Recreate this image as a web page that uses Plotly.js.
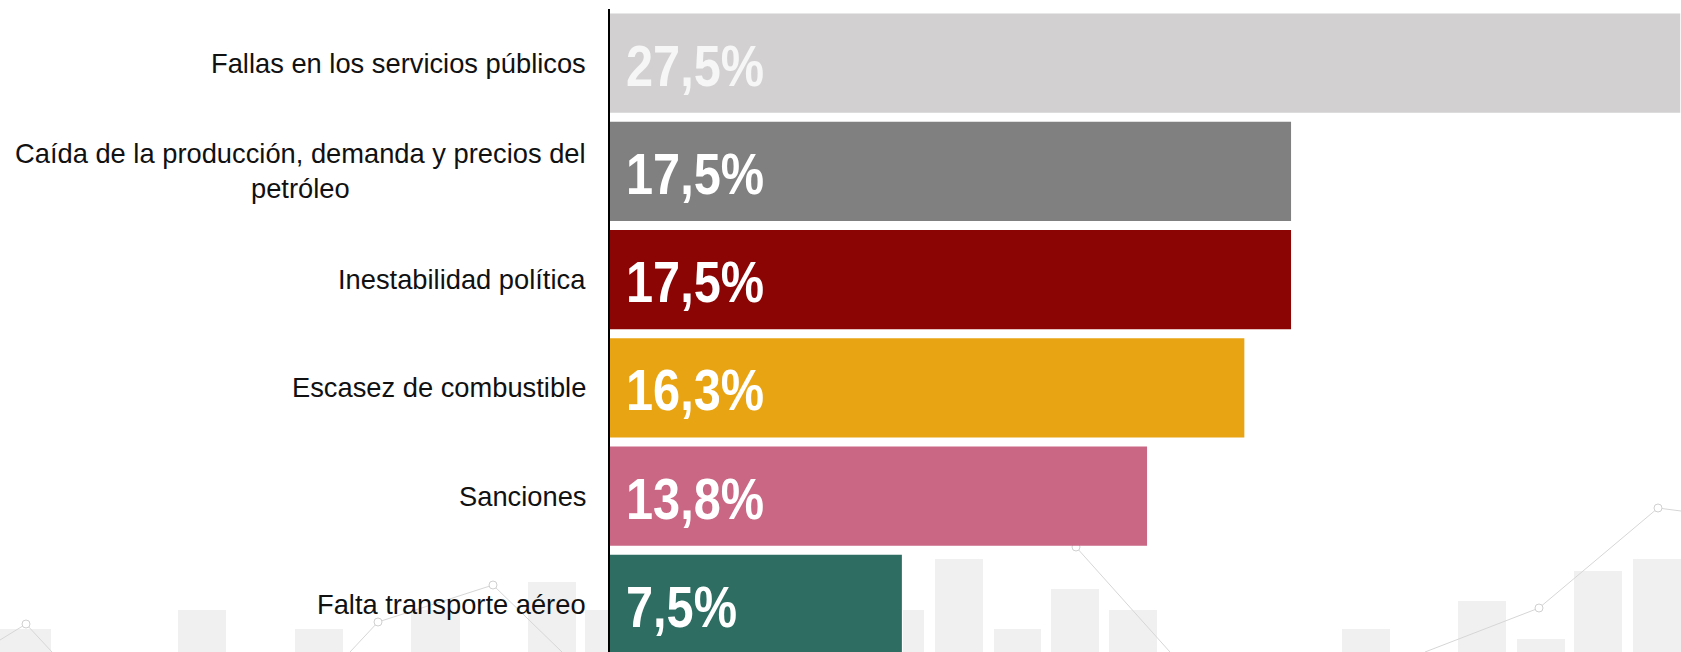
<!DOCTYPE html>
<html>
<head>
<meta charset="utf-8">
<script src="https://cdn.plot.ly/plotly-3.0.1.min.js"></script>
<style>
  html, body { margin: 0; padding: 0; background: #ffffff; }
  #chart { width: 1681px; height: 652px; }
</style>
</head>
<body>
<div id="chart"></div>
<script>
const categories = [
  "Fallas en los servicios públicos",
  "Caída de la producción, demanda y precios del<br>petróleo",
  "Inestabilidad política",
  "Escasez de combustible",
  "Sanciones",
  "Falta transporte aéreo"
];
const values = [27.5, 17.5, 17.5, 16.3, 13.8, 7.5];
const barColors = ["#D2D0D0", "#808080", "#8B0505", "#E9A413", "#C96784", "#2E6E62"];
const valueTextColors = ["#F6F6F6", "#FFFFFF", "#FFFFFF", "#FFFFFF", "#FFFFFF", "#FFFFFF"];

// faint decorative watermark (pixel boxes: x0, x1, top) – background art, not data
const watermarkBars = [
  [0, 51, 629], [178, 226, 610], [295, 343, 629], [411, 460, 610], [528, 576, 582], [585, 633, 610],
  [903, 924, 610], [935, 983, 559], [994, 1041, 629], [1051, 1099, 589], [1109, 1157, 610],
  [1342, 1390, 629], [1458, 1506, 601], [1517, 1565, 639], [1574, 1622, 571], [1633, 1681, 559]
];
const watermarkLines = [
  [[0, 640], [26, 624], [52, 652]],
  [[350, 652], [378, 622], [493, 585], [562, 652]],
  [[1040, 480], [1076, 547], [1170, 652]],
  [[1425, 652], [1539, 608], [1658, 508], [1681, 511]]
];

const ids = categories.map((c, i) => "c" + i);

const W = 1681, H = 652, ML = 610, MT = 9;
const PW = W - ML, PH = H - MT;
const px = x => (x - ML) / PW;
const py = y => (H - y) / PH;

const shapes = [];
watermarkBars.forEach(b => {
  shapes.push({
    type: "rect", xref: "paper", yref: "paper", layer: "below",
    x0: px(b[0]), x1: px(b[1]), y0: py(H), y1: py(b[2]),
    fillcolor: "#F0F0F0", line: { width: 0 }
  });
});
watermarkLines.forEach(l => {
  const path = l.map((p, i) => (i ? "L" : "M") + px(p[0]) + "," + py(p[1])).join(" ");
  shapes.push({
    type: "path", xref: "paper", yref: "paper", layer: "below",
    path: path, line: { color: "#D6D6D6", width: 1 }
  });
  l.slice(1, -1).forEach(p => {
    shapes.push({
      type: "circle", xref: "paper", yref: "paper", layer: "below",
      xsizemode: "pixel", ysizemode: "pixel",
      xanchor: px(p[0]), yanchor: py(p[1]),
      x0: -4, x1: 4, y0: -4, y1: 4,
      fillcolor: "#FFFFFF", line: { color: "#D0D0D0", width: 1 }
    });
  });
});

const trace = {
  type: "bar",
  orientation: "h",
  x: values,
  y: ids,
  marker: { color: barColors, line: { width: 0 } },
  hoverinfo: "skip"
};

const annotations = [];
categories.forEach((c, i) => {
  annotations.push({
    x: 0, xref: "paper", y: ids[i], yref: "y",
    xanchor: "right", yanchor: "middle", xshift: -22,
    text: c, showarrow: false, align: "center",
    font: { family: "Liberation Sans, Arial, sans-serif", size: 27.3, color: "#111111" }
  });
  annotations.push({
    x: 0, xref: "x", y: ids[i], yref: "y",
    xanchor: "left", yanchor: "middle", xshift: 14, yshift: -2,
    text: "<b>" + values[i].toFixed(1).replace(".", ",") + "%</b>",
    showarrow: false,
    font: { family: "Liberation Sans, Arial, sans-serif", size: 58, color: valueTextColors[i] }
  });
});

const layout = {
  width: W, height: H,
  margin: { l: ML, r: 0, t: MT, b: 0, pad: 0 },
  paper_bgcolor: "#ffffff",
  plot_bgcolor: "rgba(0,0,0,0)",
  showlegend: false,
  bargap: 0.085,
  xaxis: {
    range: [0, 27.52], showgrid: false, zeroline: false,
    showticklabels: false, showline: false, fixedrange: true
  },
  yaxis: {
    type: "category", categoryorder: "array", categoryarray: ids,
    range: [5.44, -0.5], showgrid: false, zeroline: false,
    showticklabels: false, showline: true, linecolor: "#000000", linewidth: 2,
    ticks: "", fixedrange: true
  },
  shapes: shapes,
  annotations: annotations
};

Plotly.newPlot("chart", [trace], layout, { displayModeBar: false, staticPlot: true }).then(gd => {
  // narrow the value labels (condensed look of the original)
  gd.querySelectorAll("g.annotation").forEach(g => {
    const idx = +g.getAttribute("data-index");
    if (idx % 2 === 1) {
      const t = g.querySelector("text.annotation-text");
      if (t) {
        t.style.transformBox = "fill-box";
        t.style.transformOrigin = "left center";
        t.style.transform = "scaleX(0.84)";
      }
    }
  });
});
</script>
</body>
</html>
